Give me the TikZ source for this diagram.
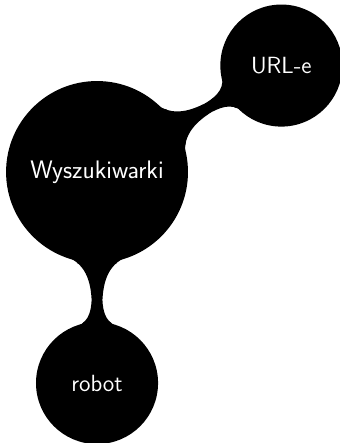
\documentclass[tikz,border=0pt]{standalone}
\usepackage{tikz}
\usetikzlibrary{mindmap}

\begin{document}
\begin{tikzpicture}[mindmap,concept color=black,text=white,font=\sffamily,
  every concept/.style={minimum size=2.67cm,text width=2.3cm,align=center,font=\sffamily\fontsize{14.8}{17}\selectfont},
  rootconcept/.style={minimum size=4cm,text width=3.5cm,font=\sffamily\fontsize{16}{19}\selectfont}]
\useasboundingbox (-2.156,-6.022) rectangle (5.378,3.822);
\node[concept,rootconcept] (wysz) at (0,0) {Wyszukiwarki};
\node[concept] (urle) at (30:4.73) {URL-e};
\node[concept] (robot) at (-90:4.69) {robot};
\path (wysz) to[circle connection bar switch color=from (black) to (black)] (urle);
\path (wysz) to[circle connection bar switch color=from (black) to (black)] (robot);
\end{tikzpicture}
\end{document}
